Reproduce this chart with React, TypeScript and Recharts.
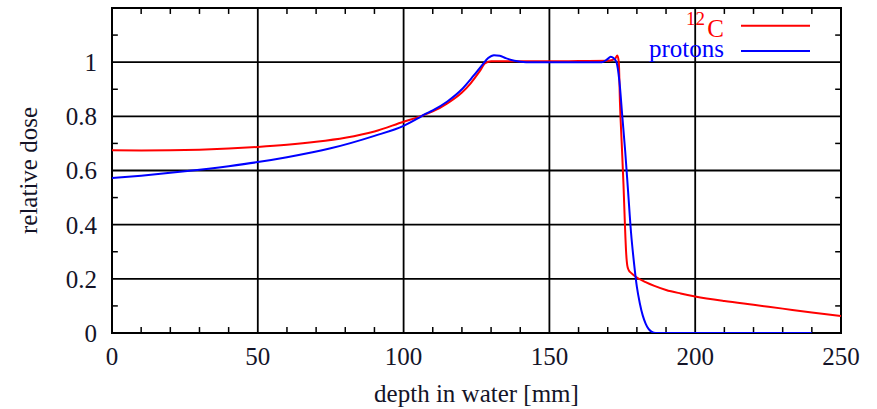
import React from 'react';
import { LineChart, Line, XAxis, YAxis, CartesianGrid, ReferenceLine, ReferenceArea, Legend, Label } from 'recharts';

const carbonDepth = [0, 10, 20, 30, 40, 50, 60, 70, 80, 90, 100, 105, 107, 110, 115, 120, 123, 126, 128, 130, 140, 150, 160, 170, 172.5, 173.3, 173.8, 174.2, 174.8, 175.4, 175.9, 176.3, 176.7, 177.2, 178, 180, 183, 186, 190, 195, 200, 210, 220, 230, 240, 250];
const carbonDose = [0.675, 0.674, 0.675, 0.677, 0.681, 0.687, 0.695, 0.706, 0.721, 0.744, 0.78, 0.797, 0.805, 0.818, 0.848, 0.888, 0.922, 0.965, 0.996, 1.003, 1.003, 1.003, 1.004, 1.005, 1.012, 1.025, 1.0, 0.85, 0.7, 0.55, 0.4, 0.3, 0.25, 0.232, 0.222, 0.205, 0.188, 0.174, 0.159, 0.146, 0.135, 0.118, 0.104, 0.09, 0.076, 0.063];

const protonDepth = [0, 10, 25, 40, 50, 60, 75, 90, 100, 105, 107, 110, 115, 120, 124, 127, 129, 131, 133, 135, 138, 142, 150, 160, 168, 170, 171, 172, 173, 174, 175, 176, 177, 178, 179, 180, 181, 182, 183, 184, 185, 186.5, 200, 220, 240];
const protonDose = [0.572, 0.581, 0.597, 0.616, 0.631, 0.649, 0.682, 0.728, 0.765, 0.793, 0.806, 0.822, 0.855, 0.9, 0.95, 0.99, 1.015, 1.026, 1.024, 1.015, 1.005, 1.0, 1.0, 1.0, 1.0, 1.012, 1.02, 1.015, 1.0, 0.93, 0.8, 0.67, 0.52, 0.37, 0.26, 0.17, 0.11, 0.065, 0.035, 0.015, 0.005, 0, 0, 0, 0];

const xTicks = [0, 50, 100, 150, 200, 250];
const yTicks = [0, 0.2, 0.4, 0.6, 0.8, 1];
const xMinorTicks = [10, 20, 30, 40, 60, 70, 80, 90, 110, 120, 130, 140, 160, 170, 180, 190, 210, 220, 230, 240];
const yMinorTicks = [0.1, 0.3, 0.5, 0.7, 0.9, 1.1];

const carbonData = carbonDepth.map((x, i) => ({ x, y: carbonDose[i] }));
const protonData = protonDepth.map((x, i) => ({ x, y: protonDose[i] }));

const FONT = '"Liberation Serif", "DejaVu Serif", serif';
const TXT = '#141428';

const X_MIN = 0, X_MAX = 250, Y_MIN = 0, Y_MAX = 1.2;
const X_TICK_LEN = 2.0; // in data units
const Y_TICK_LEN = 0.022;

const LegendContent = () => (
  <svg width={877} height={70} style={{ display: 'block' }}>
    <text x={705} y={25} textAnchor="end" fill="#ff0000" fontFamily={FONT} fontSize={19}>12</text>
    <text x={724} y={37} textAnchor="end" fill="#ff0000" fontFamily={FONT} fontSize={25}>C</text>
    <line x1={741} x2={810} y1={25.7} y2={25.7} stroke="#ff0000" strokeWidth={2} />
    <text x={724} y={57} textAnchor="end" fill="#0000ff" fontFamily={FONT} fontSize={25}>protons</text>
    <line x1={741} x2={810} y1={51} y2={51} stroke="#0000ff" strokeWidth={2} />
  </svg>
);

export default function App() {
  return (
    <div style={{ position: 'absolute', left: 0, top: 0, width: 877, height: 409, background: '#fff' }}>
      <LineChart width={877} height={409} margin={{ top: 8, right: 36, bottom: 0, left: 0 }}>
        <CartesianGrid stroke="#000" strokeWidth={1.8} />
        <XAxis
          dataKey="x"
          type="number"
          domain={[X_MIN, X_MAX]}
          ticks={xTicks}
          height={76}
          axisLine={false}
          tickLine={false}
          tickSize={6}
          tickMargin={8}
          tick={{ fontSize: 25, fill: TXT, fontFamily: FONT }}
          allowDataOverflow
        >
          <Label
            content={({ viewBox }: any) => (
              <text
                x={viewBox.x + viewBox.width / 2}
                y={viewBox.y + viewBox.height - 7}
                textAnchor="middle"
                fill={TXT}
                fontFamily={FONT}
                fontSize={25}
              >
                depth in water [mm]
              </text>
            )}
          />
        </XAxis>
        <YAxis
          type="number"
          domain={[Y_MIN, Y_MAX]}
          ticks={yTicks}
          width={112}
          axisLine={false}
          tickLine={false}
          tickSize={6}
          tickMargin={9}
          tick={{ fontSize: 25, fill: TXT, fontFamily: FONT }}
          allowDataOverflow
        >
          <Label
            content={({ viewBox }: any) => {
              const cx = viewBox.x + 37;
              const cy = viewBox.y + viewBox.height / 2;
              return (
                <text
                  x={cx}
                  y={cy}
                  textAnchor="middle"
                  fill={TXT}
                  fontFamily={FONT}
                  fontSize={25}
                  transform={`rotate(-90, ${cx}, ${cy})`}
                >
                  relative dose
                </text>
              );
            }}
          />
        </YAxis>
        {xMinorTicks.map((t) => (
          <ReferenceLine key={`xb${t}`} segment={[{ x: t, y: Y_MIN }, { x: t, y: Y_MIN + Y_TICK_LEN }]} stroke="#000" strokeWidth={1.5} />
        ))}
        {xMinorTicks.map((t) => (
          <ReferenceLine key={`xt${t}`} segment={[{ x: t, y: Y_MAX }, { x: t, y: Y_MAX - Y_TICK_LEN }]} stroke="#000" strokeWidth={1.5} />
        ))}
        {yMinorTicks.map((t) => (
          <ReferenceLine key={`yl${t}`} segment={[{ x: X_MIN, y: t }, { x: X_MIN + X_TICK_LEN, y: t }]} stroke="#000" strokeWidth={1.5} />
        ))}
        {yMinorTicks.map((t) => (
          <ReferenceLine key={`yr${t}`} segment={[{ x: X_MAX, y: t }, { x: X_MAX - X_TICK_LEN, y: t }]} stroke="#000" strokeWidth={1.5} />
        ))}
        <ReferenceArea x1={X_MIN} x2={X_MAX} y1={Y_MIN} y2={Y_MAX} fill="none" stroke="#000" strokeWidth={2} ifOverflow="visible" />
        <Line data={carbonData} dataKey="y" name="12C" type="monotone" stroke="#ff0000" strokeWidth={2} dot={false} isAnimationActive={false} />
        <Line data={protonData} dataKey="y" name="protons" type="monotone" stroke="#0000ff" strokeWidth={2} dot={false} isAnimationActive={false} />
        <Legend
          layout="horizontal"
          verticalAlign="middle"
          align="center"
          content={() => <LegendContent />}
          wrapperStyle={{ position: 'absolute', left: 0, top: 0, width: 877, height: 70, margin: 0, padding: 0 }}
        />
      </LineChart>
    </div>
  );
}
